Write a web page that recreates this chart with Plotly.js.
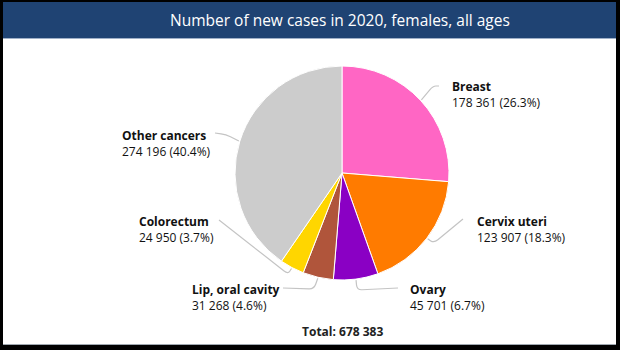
<!DOCTYPE html>
<html>
<head>
<meta charset="utf-8">
<script src="https://cdn.plot.ly/plotly-3.0.1.min.js"></script>
<style>
  html, body { margin: 0; padding: 0; background: #fff; }
  #chart { width: 620px; height: 350px; }
</style>
</head>
<body>
<div id="chart"></div>
<script>
// ---- Data ----
const cancerSites = ["Breast", "Cervix uteri", "Ovary", "Lip, oral cavity", "Colorectum", "Other cancers"];
const newCases = [178361, 123907, 45701, 31268, 24950, 274196];
const sliceColors = ["#ff66c4", "#ff7b00", "#8a00c4", "#b0553b", "#ffd600", "#cccccc"];
const chartTitle = "Number of new cases in 2020, females, all ages";

// ---- Layout helpers (pixel geometry) ----
const W = 620, H = 350;
const cx = 342, cy = 173, R = 107;
const px = x => x / W;
const py = y => (H - y) / H;

function fmt(n) {
  return String(n).replace(/\B(?=(\d{3})+(?!\d))/g, " ");
}
const total = newCases.reduce((a, b) => a + b, 0);

// label block positions (left x, vertical centre y) and leader elbows/ends
const labelPos = [
  {x: 450, y: 94.5, elbow: [433, 86], end: [439, 86]},
  {x: 475, y: 229.5, elbow: [434, 243], end: [463, 219]},
  {x: 408, y: 297.5, elbow: [357, 290], end: [398, 288]},
  {x: 190, y: 297.5, elbow: [314, 289], end: [283, 288]},
  {x: 137, y: 229.5, elbow: [288, 274], end: [219, 220]},
  {x: 120, y: 143, elbow: [226, 134.5], end: [215, 133]}
];

const annotations = [];
const shapes = [];

// frame: black border, white panel, title bar
shapes.push({type: "rect", xref: "paper", yref: "paper", layer: "below",
  x0: px(3), x1: px(616), y0: py(345), y1: py(2),
  fillcolor: "#ffffff", line: {width: 0}});
shapes.push({type: "rect", xref: "paper", yref: "paper", layer: "below",
  x0: px(3), x1: px(616), y0: py(38), y1: py(2),
  fillcolor: "#1f4373", line: {width: 0}});
shapes.push({type: "line", xref: "paper", yref: "paper", layer: "below",
  x0: px(3), x1: px(616), y0: py(38.5), y1: py(38.5),
  line: {color: "#9fb0c8", width: 1}});
shapes.push({type: "line", xref: "paper", yref: "paper", layer: "below",
  x0: px(3), x1: px(616), y0: py(344.5), y1: py(344.5),
  line: {color: "#a0a8b0", width: 1}});

annotations.push({xref: "paper", yref: "paper", x: px(340), y: py(20),
  xanchor: "center", yanchor: "middle", showarrow: false,
  text: chartTitle, font: {family: "Open Sans", size: 15.5, color: "#ffffff"}});

// labels and leader lines computed from slice mid-angles
let cum = 0;
newCases.forEach((v, i) => {
  const mid = (cum + v / 2) / total * 2 * Math.PI;
  cum += v;
  const r0 = R + 1;
  const p0 = [cx + r0 * Math.sin(mid), cy - r0 * Math.cos(mid)];
  const lp = labelPos[i];
  const p1 = lp.elbow, p2 = lp.end;
  const d = 5;
  const len01 = Math.hypot(p1[0] - p0[0], p1[1] - p0[1]);
  const len12 = Math.hypot(p2[0] - p1[0], p2[1] - p1[1]);
  const dA = Math.min(d, len01 / 2), dB = Math.min(d, len12 / 2);
  const a = [p1[0] - (p1[0] - p0[0]) * dA / len01, p1[1] - (p1[1] - p0[1]) * dA / len01];
  const b = [p1[0] + (p2[0] - p1[0]) * dB / len12, p1[1] + (p2[1] - p1[1]) * dB / len12];
  const P = p => px(p[0]) + "," + py(p[1]);
  shapes.push({type: "path", xref: "paper", yref: "paper", layer: "above",
    path: "M" + P(p0) + " L" + P(a) + " Q" + P(p1) + " " + P(b) + " L" + P(p2),
    line: {color: "#c4c4c4", width: 1.2}});
  const pct = (v / total * 100).toFixed(1);
  annotations.push({xref: "paper", yref: "paper", x: px(lp.x), y: py(lp.y),
    xanchor: "left", yanchor: "middle", align: "left", showarrow: false,
    text: "<b>" + cancerSites[i] + "</b><br>" + fmt(v) + " (" + pct + "%)",
    font: {family: "Open Sans", size: 12, color: "#111111"}});
});

annotations.push({xref: "paper", yref: "paper", x: px(342), y: py(331),
  xanchor: "center", yanchor: "middle", showarrow: false,
  text: "<b>Total: " + fmt(total) + "</b>",
  font: {family: "Open Sans", size: 12, color: "#222222"}});

const trace = {
  type: "pie",
  labels: cancerSites,
  values: newCases,
  sort: false,
  direction: "clockwise",
  rotation: 0,
  textinfo: "none",
  hoverinfo: "label+value+percent",
  marker: {colors: sliceColors, line: {color: "#ffffff", width: 1}},
  domain: {x: [px(cx - R), px(cx + R)], y: [py(cy + R), py(cy - R)]}
};

const layout = {
  width: W, height: H,
  margin: {l: 0, r: 0, t: 0, b: 0},
  paper_bgcolor: "#000000",
  showlegend: false,
  shapes: shapes,
  annotations: annotations,
  font: {family: "Open Sans"}
};

Plotly.newPlot("chart", [trace], layout, {displayModeBar: false, staticPlot: true});
</script>
</body>
</html>
